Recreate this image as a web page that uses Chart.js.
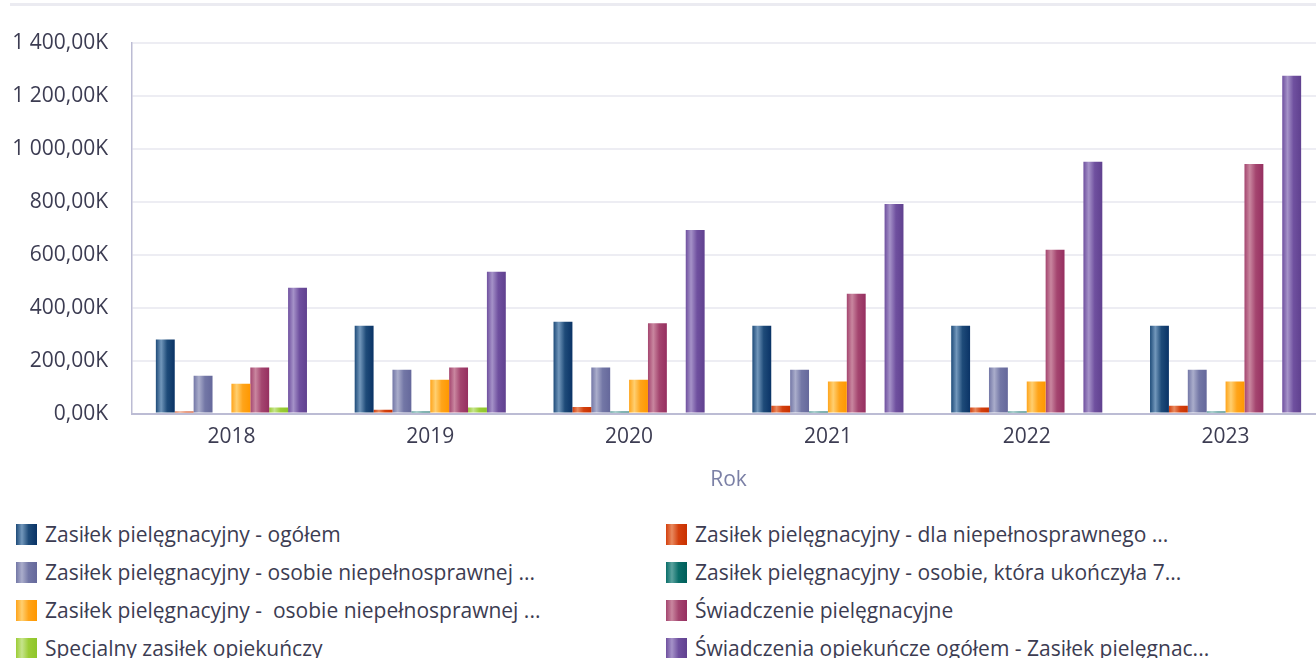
<!DOCTYPE html>
<html>
<head>
<meta charset="utf-8">
<script src="https://cdn.jsdelivr.net/npm/chart.js@4.4.1/dist/chart.umd.min.js"></script>
<style>
  html, body { margin: 0; padding: 0; background: #ffffff; width: 1316px; height: 658px; overflow: hidden; }
  #topline { position: absolute; left: 10px; top: 3px; width: 1306px; height: 3px; background: #ebebf1; }
  #wrap { position: absolute; left: 0; top: 0; width: 1330px; height: 497px; }
  #legend { position: absolute; left: 16px; top: 515px; width: 1300px; display: grid;
            grid-template-columns: 650px 650px; grid-auto-rows: 38px;
            font-family: "Open Sans", sans-serif; font-size: 21px; color: #3c3c52; }
  .item { display: flex; align-items: center; white-space: pre; height: 38px; }
  .box { width: 21px; height: 21px; margin-right: 8px; flex: none; }
</style>
</head>
<body>
<div id="topline"></div>
<div id="wrap"><canvas id="c"></canvas></div>
<div id="legend"></div>
<script>
// ---- data (values in thousands, "K") ----
const categories = ["2018", "2019", "2020", "2021", "2022", "2023"];
const seriesLabels = [
  "Zasiłek pielęgnacyjny - ogółem",
  "Zasiłek pielęgnacyjny - dla niepełnosprawnego ...",
  "Zasiłek pielęgnacyjny - osobie niepełnosprawnej ...",
  "Zasiłek pielęgnacyjny - osobie, która ukończyła 7...",
  "Zasiłek pielęgnacyjny -  osobie niepełnosprawnej ...",
  "Świadczenie pielęgnacyjne",
  "Specjalny zasiłek opiekuńczy",
  "Świadczenia opiekuńcze ogółem - Zasiłek pielęgnac..."
];
const zasilekOgolem      = [280, 332, 347, 332, 332, 332];
const zasilekDlaNiepeln  = [8, 15, 25, 30, 23, 30];
const zasilekOsobieNiep1 = [143, 166, 174, 166, 174, 166];
const zasilekUkonczyla75 = [null, 8, 8, 8, 8, 8];
const zasilekOsobieNiep2 = [113, 128, 128, 121, 121, 121];
const swiadczeniePiel    = [174, 174, 341, 453, 619, 943];
const specjalnyZasilek   = [23, 23, null, null, null, null];
const swiadczeniaOgolem  = [475, 536, 694, 792, 951, 1276];
const seriesValues = [zasilekOgolem, zasilekDlaNiepeln, zasilekOsobieNiep1, zasilekUkonczyla75,
                      zasilekOsobieNiep2, swiadczeniePiel, specjalnyZasilek, swiadczeniaOgolem];
const yTicks = [0, 200, 400, 600, 800, 1000, 1200, 1400];

// ---- styles: [base, light, dark] ----
const palette = [
  ["#1e4b79", "#7297bb", "#0a3366"],
  ["#d4400e", "#e8895e", "#c93100"],
  ["#7377a6", "#aaadcb", "#65689b"],
  ["#0a6e69", "#5aa29e", "#005e5a"],
  ["#ffa41a", "#ffcf70", "#ff9800"],
  ["#a4456f", "#c9869f", "#962f60"],
  ["#9ccd36", "#c6e48c", "#8ec52a"],
  ["#6f509f", "#a592c8", "#60418f"]
];

function fmtK(v) {
  const s = Number(v).toFixed(2).split(".");
  const intp = s[0].replace(/\B(?=(\d{3})+(?!\d))/g, " ");
  return intp + "," + s[1] + "K";
}

const gradientPlugin = {
  id: "barGradient",
  beforeDatasetsDraw(chart) {
    const ctx = chart.ctx;
    chart.data.datasets.forEach((ds, di) => {
      const meta = chart.getDatasetMeta(di);
      const p = palette[di];
      meta.data.forEach(el => {
        if (!el || !isFinite(el.x) || !el.width) return;
        const x0 = el.x - el.width / 2, x1 = el.x + el.width / 2;
        const g = ctx.createLinearGradient(x0, 0, x1, 0);
        g.addColorStop(0, p[0]);
        g.addColorStop(0.28, p[1]);
        g.addColorStop(0.6, p[0]);
        g.addColorStop(1, p[2]);
        el.options.backgroundColor = g;
      });
    });
  }
};

const FONT = "'Open Sans', sans-serif";
const TXT = "#3c3c52";

new Chart(document.getElementById("c"), {
  type: "bar",
  data: {
    labels: categories,
    datasets: seriesLabels.map((lab, i) => ({
      label: lab,
      data: seriesValues[i],
      backgroundColor: (c) => palette[c.datasetIndex][0],
      borderWidth: 0,
      categoryPercentage: 0.76,
      barPercentage: 1.0
    }))
  },
  options: {
    responsive: true,
    maintainAspectRatio: false,
    animation: false,
    layout: { padding: { top: 43, left: 0, right: 5, bottom: 4 } },
    plugins: { legend: { display: false }, tooltip: { enabled: false } },
    scales: {
      x: {
        grid: { display: false, drawTicks: false },
        border: { color: "#bcbcd4", width: 2 },
        ticks: { color: TXT, font: { family: FONT, size: 21 }, padding: 11 },
        title: { display: true, text: "Rok", color: "#7b80a6", font: { family: FONT, size: 21 }, padding: { top: 7, bottom: 0 } }
      },
      y: {
        min: 0, max: 1400,
        afterBuildTicks: (axis) => { axis.ticks = yTicks.map(v => ({ value: v })); },
        afterFit: (axis) => { axis.width = 132; },
        grid: { color: (c) => c.tick && c.tick.value === 0 ? "rgba(0,0,0,0)" : "#ededf3", lineWidth: 2, drawTicks: false },
        border: { color: "#bcbcd4", width: 1.5 },
        ticks: { color: TXT, font: { family: FONT, size: 21 }, padding: 24, callback: (v) => fmtK(v) }
      }
    }
  },
  plugins: [gradientPlugin]
});

// ---- HTML legend built from the arrays ----
const leg = document.getElementById("legend");
seriesLabels.forEach((lab, i) => {
  const p = palette[i];
  const it = document.createElement("div");
  it.className = "item";
  const b = document.createElement("span");
  b.className = "box";
  b.style.background = `linear-gradient(to right, ${p[0]} 0%, ${p[1]} 28%, ${p[0]} 60%, ${p[2]} 100%)`;
  const t = document.createElement("span");
  t.textContent = lab;
  it.appendChild(b); it.appendChild(t);
  leg.appendChild(it);
});
</script>
</body>
</html>
